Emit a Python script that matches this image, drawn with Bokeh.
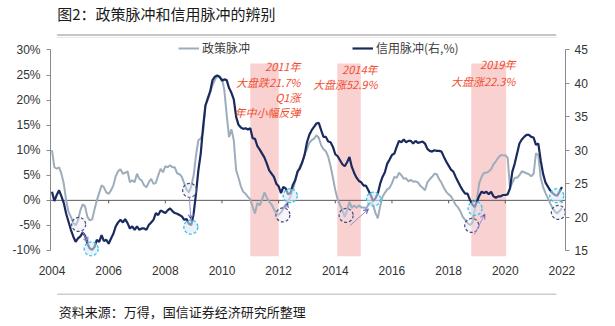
import pandas as pd
from bokeh.plotting import figure
from bokeh.models import (Range1d, LinearAxis, FixedTicker, PrintfTickFormatter, Legend,
                          LegendItem, Label, Arrow, VeeHead, ColumnDataSource)
from bokeh.layouts import column
from bokeh.embed import file_html
from bokeh.resources import INLINE

# ---------------- data (monthly, 2004-01 .. 2022-01) ----------------
months = pd.date_range("2004-01-01", periods=217, freq="MS")

# 政策脉冲 (left axis, %)
policy_pulse = [
    10.0, 6.6, 6.3, 6.6, 5.3, 3.3, 0.0, -2.3, -3.3, -4.5, -5.0, -4.0,      # 2004
    -2.0, -0.8, -1.2, -3.3, -4.0, -3.8, -1.8, 0.0, 1.5, 3.0, 2.6, 1.6,     # 2005
    1.3, 2.0, 3.0, 4.8, 5.8, 6.2, 5.3, 5.5, 5.8, 3.6, 4.0, 3.6,            # 2006
    5.3, 4.3, 4.0, 3.0, 2.6, 3.6, 4.3, 3.3, 3.5, 5.0, 6.3, 5.6,            # 2007
    6.8, 6.6, 7.0, 6.6, 6.6, 5.4, 5.2, 4.7, 3.4, 2.2, 1.6, 2.8,            # 2008
    5.0, 9.0, 12.0, 12.3, 13.5, 19.0, 20.0, 21.5, 23.0, 24.0, 24.8, 24.5,  # 2009
    24.3, 22.0, 17.0, 12.6, 14.2, 12.0, 6.0, 4.5, 2.8, 1.7, 1.3, 0.7,      # 2010
    0.2, -1.3, -2.6, -0.5, -1.0, 0.2, 1.6, 0.5, -0.3, -0.8, -1.8, -2.5,    # 2011
    -2.9, -2.4, -1.6, -1.0, -0.3, 0.8, 2.0, 3.8, 5.6, 6.8, 7.5, 9.2,       # 2012
    10.2, 11.5, 12.0, 12.3, 13.0, 12.5, 11.0, 10.2, 9.8, 8.7, 6.8, 4.5,    # 2013
    2.0, 0.2, -0.9, -2.0, -3.3, -2.0, -0.3, -1.5, -1.0, -1.5, -1.0, -1.4,  # 2014
    -1.4, -1.6, -0.9, -0.4, -0.9, -2.5, -3.6, -1.2, 0.7, 1.5, 2.2, 2.5,    # 2015
    3.4, 4.7, 4.5, 5.5, 5.0, 4.3, 4.4, 3.8, 4.1, 3.7, 3.8, 3.6,            # 2016
    2.9, 2.5, 2.0, 3.6, 4.2, 4.7, 5.3, 5.2, 4.2, 3.5, 2.5, 1.7,            # 2017
    1.2, 0.8, 0.0, -0.9, -1.4, -2.2, -3.3, -3.9, -4.5, -4.9, -4.6, -2.0,   # 2018
    0.3, 3.5, 4.7, 5.5, 5.5, 5.8, 6.2, 7.2, 7.8, 8.5, 9.0, 9.0,            # 2019
    9.0, 8.5, 2.5, 3.5, 4.5, 4.5, 5.0, 5.8, 5.6, 5.4, 5.2, 4.8,            # 2020
    5.3, 9.4, 9.0, 4.5, 2.7, 1.5, 0.5, -0.6, -1.5, -2.2, -2.6, -2.1,       # 2021
    -1.6,                                                                  # 2022
]

# 信用脉冲 (right axis, %)
credit_pulse = [
    23.8, 22.4, 23.3, 24.0, 23.1, 22.1, 20.5, 19.3, 18.1, 17.1, 16.3, 16.8,  # 2004
    17.1, 17.7, 17.2, 16.0, 15.3, 15.1, 15.5, 16.6, 16.3, 17.3, 16.4, 16.6,  # 2005
    16.0, 16.8, 17.5, 18.6, 19.2, 19.6, 19.2, 19.7, 19.1, 18.3, 18.6, 18.1,  # 2006
    18.6, 18.1, 18.3, 18.3, 18.1, 18.8, 19.2, 19.6, 20.6, 20.3, 21.0, 20.8,  # 2007
    20.6, 21.0, 21.3, 20.9, 20.6, 20.5, 20.3, 20.1, 19.6, 19.7, 19.0, 18.8,  # 2008
    20.5, 23.5, 27.0, 29.5, 33.5, 36.7, 37.8, 38.8, 40.5, 41.0, 41.2, 41.0,  # 2009
    40.4, 40.6, 40.5, 39.3, 38.6, 37.6, 35.0, 33.8, 33.4, 33.2, 33.3, 33.1,  # 2010
    33.3, 31.8, 31.7, 30.6, 30.1, 29.5, 28.9, 28.0, 27.0, 26.5, 26.0, 25.0,  # 2011
    24.6, 23.6, 24.5, 24.3, 23.4, 23.6, 24.8, 25.5, 26.8, 27.3, 28.2, 29.3,  # 2012
    31.2, 32.3, 33.0, 33.5, 34.0, 34.1, 33.0, 32.0, 32.0, 31.3, 31.2, 30.5,  # 2013
    29.4, 29.1, 28.5, 27.9, 27.6, 28.2, 29.0, 27.5, 26.6, 25.9, 25.4, 25.2,  # 2014
    24.7, 24.7, 24.0, 23.3, 22.4, 22.8, 23.5, 25.0, 26.0, 26.7, 28.0, 28.6,  # 2015
    29.3, 29.5, 30.5, 31.4, 31.2, 31.6, 31.2, 31.4, 31.4, 31.0, 31.4, 31.1,  # 2016
    31.2, 31.3, 31.0, 30.2, 29.9, 29.8, 30.0, 29.9, 29.9, 29.8, 29.0, 28.3,  # 2017
    27.7, 27.1, 26.8, 26.0, 25.3, 24.6, 24.0, 23.5, 23.5, 22.6, 21.9, 21.5,  # 2018
    22.3, 23.2, 23.8, 23.6, 23.8, 23.4, 23.8, 23.1, 22.9, 23.1, 23.1, 23.3,  # 2019
    23.3, 23.4, 24.3, 26.8, 28.0, 29.5, 31.0, 31.6, 32.0, 32.3, 32.3, 32.0,  # 2020
    31.9, 30.8, 31.0, 28.5, 26.5, 25.2, 24.6, 24.0, 23.6, 23.3, 23.2, 23.8,  # 2021
    24.5,                                                                    # 2022
]

x_tick_years = [2004, 2006, 2008, 2010, 2012, 2014, 2016, 2018, 2020, 2022]
left_ticks = [-10, -5, 0, 5, 10, 15, 20, 25, 30]
right_ticks = [15, 20, 25, 30, 35, 40, 45]

# shaded market years
shade_start = [2011.0, 2014.07, 2018.8]
shade_end = [2012.0, 2014.9, 2020.03]
shade_top = 27.3

# red notes
note_text = ["2011年", "大盘跌21.7%", "Q1涨", "年中小幅反弹", "2014年", "大盘涨52.9%", "2019年", "大盘涨22.3%"]
note_x = [2012.77, 2012.77, 2012.77, 2012.77, 2015.49, 2015.49, 2020.36, 2020.36]
note_y = [26.9, 23.7, 20.6, 17.7, 26.3, 23.3, 27.3, 23.9]

# trough markers (month index from 2004-01)
policy_trough_m = [11.3, 58.3, 97.8, 124.6, 177.8, 214.5]
policy_trough_v = [-4.8, 2.0, -2.9, -3.0, -5.0, -2.4]
credit_trough_m = [16.6, 58.8, 100.9, 136.2, 179.2, 213.8]
credit_trough_v = [15.25, 18.5, 23.2, 22.7, 21.3, 23.2]

# arrows policy trough -> credit trough (month index, left-axis value)
arrow_m0 = [12.65, 58.2, 98.9, 126.3, 178.9]
arrow_v0 = [-6.0, 0.6, -1.6, -5.0, -6.8]
arrow_m1 = [15.25, 58.8, 99.9, 134.1, 183.4]
arrow_v1 = [-8.4, -3.8, -0.4, -1.7, -2.7]

title_text = "图2：政策脉冲和信用脉冲的辨别"
source_text = "资料来源：万得，国信证券经济研究所整理"

# ---------------- derived ----------------
dec_year = [d.year + (d.month - 1) / 12 for d in months]
def m2y(m):
    return [2004 + v / 12 for v in m]

CJK = "Noto Sans CJK SC"
LAT = "Liberation Sans"
NAVY = "#1B2A5E"
GRAY = "#9DADBC"

# ---------------- top strip ----------------
top = figure(width=615, height=38, x_range=Range1d(0, 615), y_range=Range1d(38, 0),
             output_backend="svg", toolbar_location=None, x_axis_type=None,
             y_axis_type=None, min_border=0, outline_line_color=None)
top.add_layout(Label(x=8, y=13, text=title_text, text_baseline="middle", text_font=CJK,
                     text_font_size="15px", text_color="#1a1a1a"))
top.segment(x0=[8, 8], x1=[604, 604], y0=[34.5, 37.5], y1=[34.5, 37.5],
            line_color=["#8c8c8c", "#d0d0d0"], line_width=1)

# ---------------- main chart ----------------
p = figure(width=615, height=255, x_range=Range1d(2003.947, 2022.126),
           y_range=Range1d(-11.2, 32.29), output_backend="svg", toolbar_location=None,
           min_border_left=50, min_border_right=50, min_border_top=0, min_border_bottom=37,
           outline_line_color=None)
p.extra_y_ranges = {"right": Range1d(14.1, 46.72)}
p.grid.visible = False

# x axis (labels only)
p.xaxis.ticker = FixedTicker(ticks=x_tick_years)
p.xaxis.axis_line_color = None
p.xaxis.major_tick_line_color = None
p.xaxis.minor_tick_line_color = None
p.xaxis.major_label_standoff = 3
p.xaxis.major_label_text_font = LAT
p.xaxis.major_label_text_font_size = "12px"
p.xaxis.major_label_text_color = "#333333"

# left axis
ly = p.yaxis[0]
ly.ticker = FixedTicker(ticks=left_ticks)
ly.formatter = PrintfTickFormatter(format="%d%%")
ly.bounds = (-10, 30)
ly.axis_line_color = "#8a8a8a"
ly.major_tick_line_color = "#8a8a8a"
ly.major_tick_in = 0
ly.major_tick_out = 4
ly.minor_tick_line_color = None
ly.major_label_standoff = 6
ly.major_label_text_font = LAT
ly.major_label_text_font_size = "12px"
ly.major_label_text_color = "#333333"

# right axis
ry = LinearAxis(y_range_name="right", ticker=FixedTicker(ticks=right_ticks), bounds=(15, 45))
ry.axis_line_color = "#8a8a8a"
ry.major_tick_line_color = "#8a8a8a"
ry.major_tick_in = 0
ry.major_tick_out = 4
ry.minor_tick_line_color = None
ry.major_label_standoff = 5
ry.major_label_text_font = LAT
ry.major_label_text_font_size = "12px"
ry.major_label_text_color = "#333333"
p.add_layout(ry, "right")

# shaded periods
p.quad(left=shade_start, right=shade_end, top=shade_top, bottom=p.y_range.start,
       fill_color="#F5A3A3", fill_alpha=0.5, line_color=None)

# zero line with small ticks
p.segment(x0=[p.x_range.start], x1=[p.x_range.end], y0=[0], y1=[0],
          line_color="#5a5a5a", line_width=1)
p.segment(x0=x_tick_years[1:], x1=x_tick_years[1:], y0=0, y1=-0.6,
          line_color="#5a5a5a", line_width=1)

# series
src = ColumnDataSource(dict(x=dec_year, policy=policy_pulse, credit=credit_pulse))
r_policy = p.line("x", "policy", source=src, line_color=GRAY, line_width=2)
r_credit = p.line("x", "credit", source=src, y_range_name="right", line_color=NAVY,
                  line_width=2.2)

# arrows
arr_src = ColumnDataSource(dict(x0=m2y(arrow_m0), y0=arrow_v0, x1=m2y(arrow_m1), y1=arrow_v1))
p.add_layout(Arrow(end=VeeHead(size=5, line_color="#8F8FD8", line_width=1),
                   x_start="x0", y_start="y0", x_end="x1", y_end="y1", source=arr_src,
                   line_color="#8F8FD8", line_width=1))

# trough circles
p.scatter(x=m2y(policy_trough_m), y=policy_trough_v, marker="circle", size=14,
          fill_color="#E4E4F0", fill_alpha=0.35, line_color="#3F4C7E",
          line_dash="3 2", line_width=1.2)
p.scatter(x=m2y(credit_trough_m), y=credit_trough_v, y_range_name="right", marker="circle",
          size=14, fill_color="#DCE6F0", fill_alpha=0.55, line_color="#2EC3EE",
          line_dash="3 2", line_width=1.3)

# notes
for t, x, y in zip(note_text, note_x, note_y):
    p.add_layout(Label(x=x, y=y, text=t, text_align="right", text_baseline="middle",
                       text_font=CJK, text_font_style="italic", text_font_size="11px",
                       text_color="#F04E30"))

# legend
legend = Legend(items=[LegendItem(label="政策脉冲", renderers=[r_policy]),
                       LegendItem(label="信用脉冲(右,%)", renderers=[r_credit])],
                orientation="horizontal", location=(128, 200), spacing=102,
                glyph_width=21, glyph_height=16, label_standoff=3, label_height=16,
                padding=0, margin=0, border_line_color=None, background_fill_alpha=0,
                label_text_font=CJK, label_text_font_size="12px",
                label_text_color="#404040")
p.add_layout(legend)

# ---------------- bottom strip ----------------
bot = figure(width=615, height=33, x_range=Range1d(0, 615), y_range=Range1d(33, 0),
             output_backend="svg", toolbar_location=None, x_axis_type=None,
             y_axis_type=None, min_border=0, outline_line_color=None)
bot.segment(x0=[8], x1=[604], y0=[0.5], y1=[0.5], line_color="#9a9a9a", line_width=1)
bot.add_layout(Label(x=10, y=18, text=source_text, text_baseline="middle", text_font=CJK,
                     text_font_size="13px", text_color="#1a1a1a"))

layout = column(top, p, bot, spacing=0)
open("out.html", "w").write(file_html(layout, INLINE))
